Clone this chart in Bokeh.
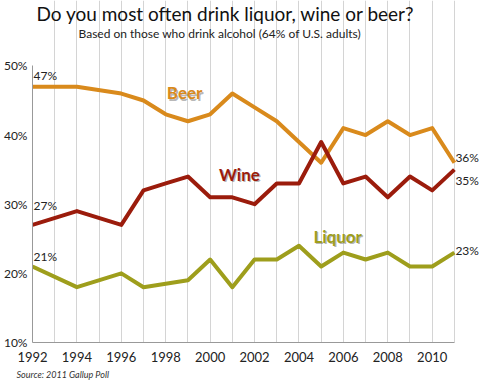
from bokeh.plotting import figure
from bokeh.models import Label, Title, Range1d, FixedTicker, ColumnDataSource
from bokeh.embed import file_html
from bokeh.resources import INLINE

years = [1992, 1994, 1996, 1997, 1998, 1999, 2000, 2001, 2002, 2003, 2004,
         2005, 2006, 2007, 2008, 2009, 2010, 2011]
beer = [47, 47, 46, 45, 43, 42, 43, 46, 44, 42, 39, 36, 41, 40, 42, 40, 41, 36]
wine = [27, 29, 27, 32, 33, 34, 31, 31, 30, 33, 33, 39, 33, 34, 31, 34, 32, 35]
liquor = [21, 18, 20, 18, 18.5, 19, 22, 18, 22, 22, 24, 21, 23, 22, 23, 21, 21, 23]

y_ticks = [10, 20, 30, 40, 50]
x_ticks = list(range(1992, 2011, 2))
grid_years = list(range(1992, 2012))

TITLE = "Do you most often drink liquor, wine or beer?"
SUBTITLE = "Based on those who drink alcohol (64% of U.S. adults)"
SOURCE = "Source: 2011 Gallup Poll"

FONT = "Lato"
BEER_C = "#D98A1C"
WINE_C = "#9B1C0C"
LIQ_C = "#9E9E1C"

Y_TOP = 59.46  # room above the 50% line for the titles

p = figure(frame_width=447, frame_height=342, output_backend="svg",
           toolbar_location=None,
           x_range=Range1d(1992, 2012.13), y_range=Range1d(10, Y_TOP),
           min_border_left=28, min_border_right=0,
           min_border_top=0, min_border_bottom=0)
p.outline_line_color = None
p.background_fill_color = "white"

# axes
p.yaxis.ticker = FixedTicker(ticks=y_ticks)
p.yaxis.major_label_overrides = {t: f"{t}%" for t in y_ticks}
p.yaxis.bounds = (10, 50)
p.xaxis.ticker = FixedTicker(ticks=x_ticks)
p.xaxis.bounds = (1992, 2011)
for ax in (p.xaxis, p.yaxis):
    ax.major_tick_line_color = None
    ax.minor_tick_line_color = None
    ax.major_tick_out = 0
    ax.major_tick_in = 0
    ax.minor_tick_out = 0
    ax.minor_tick_in = 0
    ax.axis_line_color = "#999999"
    ax.axis_line_width = 1
    ax.major_label_text_font = FONT
    ax.major_label_text_color = "#222222"
p.yaxis.major_label_text_font_size = "12px"
p.yaxis.major_label_standoff = 5
p.xaxis.major_label_text_font_size = "13px"
p.xaxis.major_label_standoff = 9

p.ygrid.grid_line_color = None
p.xgrid.ticker = FixedTicker(ticks=grid_years)
p.xgrid.bounds = (10, 50)
p.xgrid.grid_line_color = "#d4d4d4"
p.xgrid.grid_line_width = 1

src = ColumnDataSource(dict(year=years, beer=beer, wine=wine, liquor=liquor))
for col, c in (("beer", BEER_C), ("wine", WINE_C), ("liquor", LIQ_C)):
    p.line("year", col, source=src, line_color=c, line_width=4, line_join="round")

# series names with shadow
def series_label(x, y, txt, color):
    p.add_layout(Label(x=x, y=y, text=txt, x_offset=1.2, y_offset=-1.2,
                       text_font=FONT, text_font_size="17px", text_font_style="bold",
                       text_color="#444444", text_alpha=0.4, text_baseline="middle"))
    p.add_layout(Label(x=x, y=y, text=txt, text_font=FONT, text_font_size="17px",
                       text_font_style="bold", text_color=color, text_baseline="middle"))

series_label(1998.05, 46.1, "Beer", BEER_C)
series_label(2000.4, 34.3, "Wine", WINE_C)
series_label(2004.65, 25.4, "Liquor", LIQ_C)

# value labels
def val_label(x, y, txt, xo):
    p.add_layout(Label(x=x, y=y, text=txt, x_offset=xo, text_font=FONT,
                       text_font_size="12px", text_color="#222222",
                       text_baseline="middle"))

val_label(years[0], 48.6, f"{beer[0]}%", 1)
val_label(years[0], 29.8, f"{wine[0]}%", 1)
val_label(years[0], 22.5, f"{liquor[0]}%", 1)
val_label(years[-1], 36.7, f"{beer[-1]}%", 1)
val_label(years[-1], 33.4, f"{wine[-1]}%", 1)
val_label(years[-1], 23.3, f"{liquor[-1]}%", 1)

# titles (inside the top band of the plot area, above the 50% line)
p.add_layout(Label(x=1992, y=Y_TOP, y_offset=-12.5, x_offset=4, text=TITLE,
                   text_font=FONT, text_font_size="19px", text_color="#111111",
                   text_baseline="middle"))
p.add_layout(Label(x=1992, y=Y_TOP, y_offset=-33, x_offset=46, text=SUBTITLE,
                   text_font=FONT, text_font_size="12px", text_color="#222222",
                   text_baseline="middle"))
p.add_layout(Title(text=SOURCE, text_font=FONT,
                   text_font_size="9px", text_font_style="italic",
                   text_color="#333333", align="left", offset=-16,
                   standoff=4), "below")

open("out.html", "w").write(file_html(p, INLINE))
